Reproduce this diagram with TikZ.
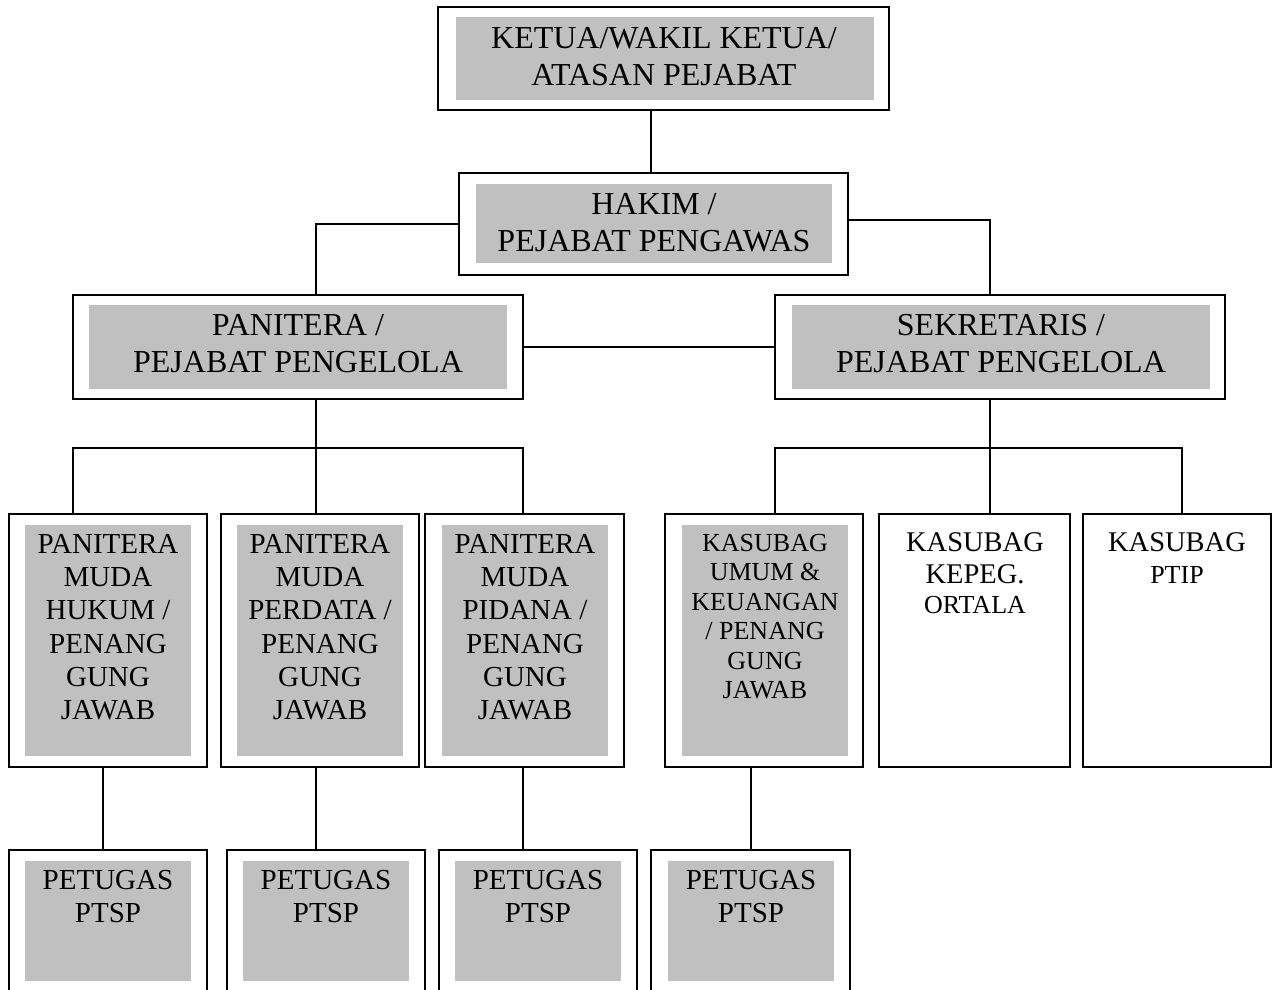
\documentclass[tikz,border=0pt]{standalone}
\usepackage{fontspec}
\setmainfont{Liberation Serif}
\usetikzlibrary{calc}
\definecolor{boxgray}{RGB}{192,192,192}
\tikzset{
  obox/.style={draw=black, line width=1.8pt, inner sep=0pt, outer sep=0pt, anchor=north west},
  gfill/.style={fill=boxgray},
  conn/.style={draw=black, line width=1.5pt},
  lbl/.style={anchor=north, inner sep=0pt, outer sep=0pt, align=center, text=black},
  big/.style={font=\fontsize{32}{37}\selectfont},
  mid/.style={font=\fontsize{29}{33.3}\selectfont},
  sml/.style={font=\fontsize{26}{29.5}\selectfont},
  ksb/.style={font=\fontsize{28.5}{32}\selectfont},
}
\newcommand\obx[5]{\node[obox, minimum width={(#4)-(#2)}, minimum height={(#5)-(#3)}] (#1) at (#2,#3) {};}
\begin{document}
\begin{tikzpicture}[x=1pt, y=-1pt]
\useasboundingbox (0,0) rectangle (1273,989);
% gray fills
\fill[gfill] (456,17) rectangle (874,100);
\fill[gfill] (476,184) rectangle (832,263);
\fill[gfill] (89,305) rectangle (507,389);
\fill[gfill] (792,305) rectangle (1210,389);
\fill[gfill] (25,525) rectangle (191,756);
\fill[gfill] (237,525) rectangle (403,756);
\fill[gfill] (442,525) rectangle (608,756);
\fill[gfill] (682,525) rectangle (848,756);
\fill[gfill] (25,861) rectangle (191,981);
\fill[gfill] (243,861) rectangle (409,981);
\fill[gfill] (455,861) rectangle (621,981);
\fill[gfill] (668,861) rectangle (834,981);
% outer boxes
\obx{ketua}{438}{7}{889}{110}
\obx{hakim}{459}{173}{848}{275}
\obx{pan}{73}{295}{523}{399}
\obx{sek}{775}{295}{1225}{399}
\obx{b1}{9}{514}{207}{767}
\obx{b2}{221}{514}{419}{767}
\obx{b3}{425}{514}{624}{767}
\obx{b4}{665}{514}{863}{767}
\obx{b5}{879}{514}{1070}{767}
\obx{b6}{1083}{514}{1271}{767}
\obx{p1}{9}{850}{207}{1000}
\obx{p2}{227}{850}{425}{1000}
\obx{p3}{439}{850}{637}{1000}
\obx{p4}{651}{850}{850}{1000}
% labels
\node[lbl, big] (t0) at (664,27) {KETUA/WAKIL KETUA/\\ATASAN PEJABAT};
\node[lbl, big] (t1) at (654,193) {HAKIM /\\PEJABAT PENGAWAS};
\node[lbl, big] (t2) at (298,314) {PANITERA /\\PEJABAT PENGELOLA};
\node[lbl, big] (t3) at (1001,314) {SEKRETARIS /\\PEJABAT PENGELOLA};
\node[lbl, mid] (t4) at (108,534) {PANITERA\\MUDA\\HUKUM /\\PENANG\\GUNG\\JAWAB};
\node[lbl, mid] (t5) at (320,534) {PANITERA\\MUDA\\PERDATA /\\PENANG\\GUNG\\JAWAB};
\node[lbl, mid] (t6) at (525,534) {PANITERA\\MUDA\\PIDANA /\\PENANG\\GUNG\\JAWAB};
\node[lbl, sml] (t7) at (765,534) {KASUBAG\\UMUM \&\\KEUANGAN\\/ PENANG\\GUNG\\JAWAB};
\node[lbl, ksb] (t8) at (975,533) {KASUBAG\\KEPEG.};
\node[lbl, sml] (t9) at (975,596) {ORTALA};
\node[lbl, ksb] (t10) at (1177,533) {KASUBAG};
\node[lbl, sml] (t11) at (1177,566) {PTIP};
\node[lbl, mid] (t12) at (108,870) {PETUGAS\\PTSP};
\node[lbl, mid] (t13) at (326,870) {PETUGAS\\PTSP};
\node[lbl, mid] (t14) at (538,870) {PETUGAS\\PTSP};
\node[lbl, mid] (t15) at (751,870) {PETUGAS\\PTSP};
% helper coordinates
\coordinate (xk) at (651,0);
\coordinate (xa) at (316,0);
\coordinate (xb) at (990,0);
\coordinate (bus) at (0,448);
\coordinate (d1) at (73,0);
\coordinate (d3) at (523,0);
\coordinate (e1) at (775,0);
\coordinate (e3) at (1182,0);
\coordinate (f1) at (103,0);
\coordinate (f4) at (751,0);
% connectors
\draw[conn] (ketua.south -| xk) -- (hakim.north -| xk);
\draw[conn] (hakim.west) -| (pan.north -| xa);
\draw[conn] ([yshift=4pt]hakim.east) -| (sek.north -| xb);
\draw[conn] (pan.east) -- (sek.west);
\draw[conn] (pan.south -| xa) -- (b2.north -| xa);
\draw[conn] (b1.north -| d1) -- (d1 |- bus) -- (d3 |- bus) -- (b3.north -| d3);
\draw[conn] (sek.south -| xb) -- (b5.north -| xb);
\draw[conn] (b4.north -| e1) -- (e1 |- bus) -- (e3 |- bus) -- (b6.north -| e3);
\draw[conn] (b1.south -| f1) -- (p1.north -| f1);
\draw[conn] (b2.south -| xa) -- (p2.north -| xa);
\draw[conn] (b3.south -| d3) -- (p3.north -| d3);
\draw[conn] (b4.south -| f4) -- (p4.north -| f4);
\end{tikzpicture}
\end{document}
